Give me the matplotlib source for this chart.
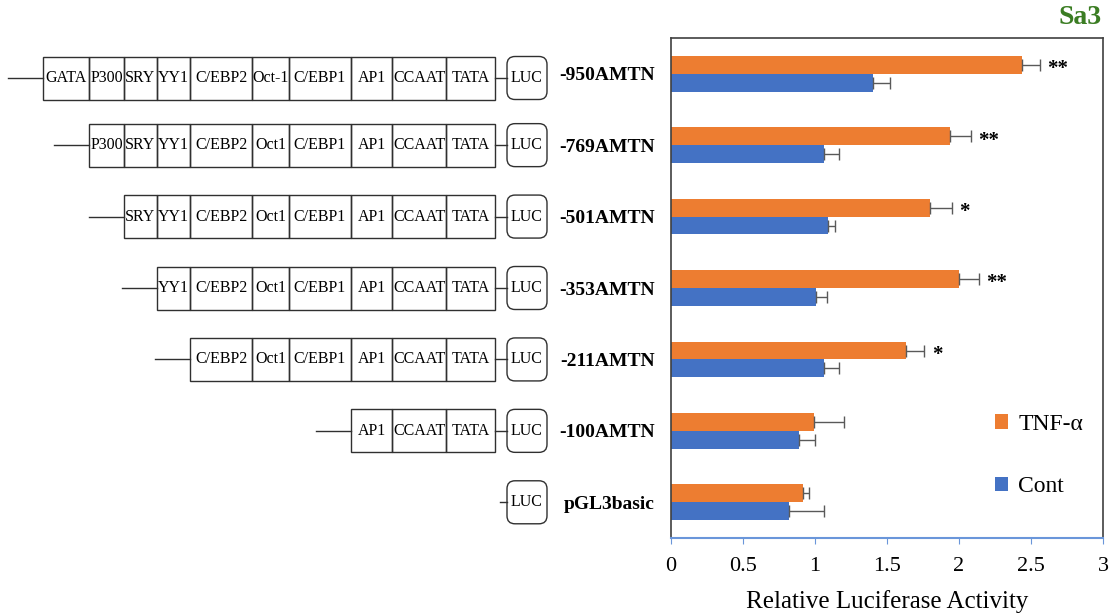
import matplotlib.pyplot as plt
from matplotlib.patches import Rectangle, FancyBboxPatch
from matplotlib.ticker import FuncFormatter
import numpy as np

plt.rcParams['font.family'] = ['Liberation Serif', 'DejaVu Serif']

constructs = ['-950AMTN', '-769AMTN', '-501AMTN', '-353AMTN', '-211AMTN', '-100AMTN', 'pGL3basic']
tnf = [2.44, 1.94, 1.80, 2.00, 1.63, 0.99, 0.92]
tnf_err = [0.12, 0.14, 0.15, 0.14, 0.13, 0.21, 0.04]
cont = [1.40, 1.06, 1.09, 1.01, 1.06, 0.89, 0.82]
cont_err = [0.12, 0.11, 0.05, 0.07, 0.11, 0.11, 0.24]
stars = ['**', '**', '*', '**', '*', '', '']

elements = [
	['GATA', 'P300', 'SRY', 'YY1', 'C/EBP2', 'Oct-1', 'C/EBP1', 'AP1', 'CCAAT', 'TATA'],
	['P300', 'SRY', 'YY1', 'C/EBP2', 'Oct1', 'C/EBP1', 'AP1', 'CCAAT', 'TATA'],
	['SRY', 'YY1', 'C/EBP2', 'Oct1', 'C/EBP1', 'AP1', 'CCAAT', 'TATA'],
	['YY1', 'C/EBP2', 'Oct1', 'C/EBP1', 'AP1', 'CCAAT', 'TATA'],
	['C/EBP2', 'Oct1', 'C/EBP1', 'AP1', 'CCAAT', 'TATA'],
	['AP1', 'CCAAT', 'TATA'],
	[],
]

# widths of the promoter boxes in pixels of the drawing panel
box_w = {'GATA': 46, 'P300': 35, 'SRY': 33, 'YY1': 33, 'C/EBP2': 62, 'Oct-1': 37, 'Oct1': 37,
	'C/EBP1': 62, 'AP1': 41, 'CCAAT': 54, 'TATA': 49}

W, H = 1111, 616
fig = plt.figure(figsize=(W/100, H/100), dpi=100)
ax_l, ax_r, ax_t, ax_b = 671, 1103, 38, 538
ax = fig.add_axes([ax_l/W, 1-ax_b/H, (ax_r-ax_l)/W, (ax_b-ax_t)/H])
ax_d = fig.add_axes([0, 1-ax_b/H, ax_l/W, (ax_b-ax_t)/H])

y = np.arange(len(constructs))
h = 0.25
orange = '#ED7D31'
blue = '#4472C4'
ax.barh(y-h/2, tnf, height=h, color=orange, label='TNF-α')
ax.barh(y+h/2, cont, height=h, color=blue, label='Cont')
ax.errorbar(tnf, y-h/2, xerr=[np.zeros(len(tnf)), tnf_err], fmt='none', ecolor='#595959',
	elinewidth=1, capsize=4, capthick=1)
ax.errorbar(cont, y+h/2, xerr=[np.zeros(len(cont)), cont_err], fmt='none', ecolor='#595959',
	elinewidth=1, capsize=4, capthick=1)
for i in range(len(stars)):
	if stars[i]:
		ax.text(tnf[i]+tnf_err[i]+0.05, y[i]-h/2+0.06, stars[i], ha='left', va='center',
			fontsize=15, fontweight='bold')

ax.set_xlim(0, 3)
ax.set_ylim(len(constructs)-0.5, -0.5)
ax.set_xticks([0, 0.5, 1, 1.5, 2, 2.5, 3])
ax.xaxis.set_major_formatter(FuncFormatter(lambda v, p: '%g' % v))
ax.tick_params(axis='x', labelsize=16, direction='out', length=4, color='#6A96DA', pad=10)
ax.set_yticks(y)
ax.set_yticklabels(constructs, fontsize=14, fontweight='bold')
ax.tick_params(axis='y', length=0, pad=11.5)
for s in ['left', 'top', 'right']:
	ax.spines[s].set_color('#404040')
	ax.spines[s].set_linewidth(1.2)
ax.spines['bottom'].set_color('#6A96DA')
ax.spines['bottom'].set_linewidth(1.5)
ax.set_xlabel('Relative Luciferase Activity', fontsize=18, labelpad=10)
ax.legend(loc='center left', bbox_to_anchor=(0.70, 0.165), frameon=False, fontsize=17,
	handlelength=0.55, handleheight=0.55, handletextpad=0.45, labelspacing=1.75)
fig.text(1102/W, 1-18/H, 'Sa3', ha='right', va='center', fontsize=20, fontweight='bold',
	color='#3B7D23')

# promoter construct drawing
ax_d.set_xlim(0, ax_l)
ax_d.set_ylim(len(constructs)-0.5, -0.5)
ax_d.axis('off')
row_px = (ax_b-ax_t)/len(constructs)
bh = 43/row_px
tata_end = 495
for i, els in enumerate(elements):
	yc = y[i] + (0.06 if i == 0 else 0)
	x = tata_end - sum(box_w[e] for e in els)
	ax_d.plot([x-35 if els else 500, x if els else 507], [yc, yc], color='#303030', lw=1)
	for e in els:
		ax_d.add_patch(Rectangle((x, yc-bh/2), box_w[e], bh, fill=False, ec='#303030', lw=1))
		ax_d.text(x+box_w[e]/2, yc, e, ha='center', va='center', fontsize=11.5)
		x += box_w[e]
	if els:
		ax_d.plot([tata_end, 507], [yc, yc], color='#303030', lw=1)
	ax_d.add_patch(FancyBboxPatch((507, yc-bh/2), 40, bh, boxstyle='round,pad=0,rounding_size=8',
		mutation_aspect=1/row_px, fill=False, ec='#303030', lw=1))
	ax_d.text(527, yc, 'LUC', ha='center', va='center', fontsize=11.5)

fig.savefig('out.png', dpi=100)
